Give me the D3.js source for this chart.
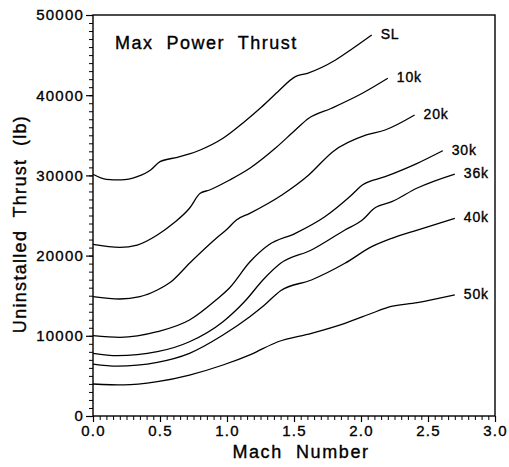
<!DOCTYPE html>
<html>
<head>
<meta charset="utf-8">
<script src="https://cdn.jsdelivr.net/npm/d3@7"></script>
<style>
  html, body { margin: 0; padding: 0; background: #fff; }
  svg { display: block; }
  text { font-family: "Liberation Sans", Arial, sans-serif; fill: #000; stroke: #000; stroke-width: 0.35px; }
</style>
</head>
<body>
<svg id="chart" width="509" height="467"></svg>
<script>
// ---- data ----
const seriesNames = ["SL", "10k", "20k", "30k", "36k", "40k", "50k"];

const machSL   = [0, 0.10, 0.21, 0.33, 0.43, 0.50, 0.63, 0.72, 0.80, 0.97, 1.13, 1.26, 1.38, 1.51, 1.60, 1.81, 1.94, 2.08];
const thrustSL = [30140, 29510, 29430, 29840, 30670, 31710, 32260, 32670, 33170, 34630, 36700, 38570, 40440, 42310, 42730, 44390, 45850, 47510];

const mach10k   = [0, 0.20, 0.33, 0.48, 0.60, 0.72, 0.80, 0.87, 1.02, 1.17, 1.36, 1.51, 1.61, 1.78, 2.01, 2.20];
const thrust10k = [21410, 21030, 21320, 22570, 24030, 25900, 27770, 28180, 29430, 30890, 33380, 35660, 37120, 38370, 40240, 42110];

const mach20k   = [0, 0.20, 0.35, 0.48, 0.58, 0.72, 0.92, 1.00, 1.07, 1.17, 1.41, 1.61, 1.79, 2.04, 2.18, 2.40];
const thrust20k = [14880, 14590, 14880, 15710, 16700, 19040, 22160, 23280, 24440, 25270, 27560, 30050, 32960, 35040, 35660, 37530];

const mach30k   = [0, 0.20, 0.48, 0.72, 0.92, 1.02, 1.17, 1.31, 1.51, 1.73, 1.93, 2.01, 2.18, 2.42, 2.61];
const thrust30k = [10010, 9810, 10510, 11970, 14500, 16000, 19200, 21320, 22780, 24850, 27560, 28800, 29840, 31510, 33080];

const mach36k   = [0, 0.18, 0.48, 0.72, 0.97, 1.13, 1.28, 1.40, 1.63, 1.88, 2.01, 2.10, 2.23, 2.42, 2.70];
const thrust36k = [7820, 7520, 8020, 9260, 11760, 14250, 17170, 19040, 20700, 23190, 24440, 25900, 26720, 28430, 30170];

const mach40k   = [0, 0.18, 0.48, 0.72, 0.97, 1.17, 1.28, 1.40, 1.63, 1.88, 2.08, 2.23, 2.42, 2.70];
const thrust40k = [6480, 6230, 6700, 7820, 10100, 12380, 13840, 15620, 16960, 19040, 21110, 22160, 23190, 24650];

const mach50k   = [0, 0.23, 0.48, 0.72, 0.97, 1.18, 1.38, 1.63, 1.88, 2.08, 2.20, 2.42, 2.70];
const thrust50k = [3990, 3870, 4280, 5110, 6360, 7690, 9260, 10310, 11560, 12810, 13550, 14130, 15090];

const xTickValues = [0, 0.5, 1.0, 1.5, 2.0, 2.5, 3.0];
const yTickValues = [0, 10000, 20000, 30000, 40000, 50000];

const chartTitle = "Max  Power  Thrust";
const xTitle = "Mach  Number";
const yTitle = "Uninstalled  Thrust  (lb)";

// ---- build ----
const machs   = [machSL, mach10k, mach20k, mach30k, mach36k, mach40k, mach50k];
const thrusts = [thrustSL, thrust10k, thrust20k, thrust30k, thrust36k, thrust40k, thrust50k];
const series = seriesNames.map((name, i) => ({
  name,
  points: machs[i].map((m, j) => ({ m, t: thrusts[i][j] }))
}));

const svg = d3.select("#chart");
const mLeft = 93, mRight = 495, mTop = 15, mBottom = 416;

const x = d3.scaleLinear().domain([0, 3]).range([mLeft, mRight]);
const y = d3.scaleLinear().domain([0, 50000]).range([mBottom, mTop]);

// minor ticks
const xMinor = d3.range(0, 3.0001, 0.05).map(v => +v.toFixed(2));
const yMinor = d3.range(0, 50001, 1000);

svg.append("g")
  .attr("transform", `translate(0,${mBottom})`)
  .call(d3.axisBottom(x).tickValues(xMinor).tickSize(4).tickFormat(""))
  .call(g => g.select(".domain").remove())
  .call(g => g.selectAll("line").attr("stroke", "#000").attr("stroke-width", 1));

svg.append("g")
  .attr("transform", `translate(0,${mBottom})`)
  .call(d3.axisBottom(x).tickValues(xTickValues).tickSize(6).tickPadding(3)
        .tickFormat(d3.format(".1f")))
  .call(g => g.select(".domain").remove())
  .call(g => g.selectAll("line").attr("stroke", "#000").attr("stroke-width", 1.2))
  .call(g => g.selectAll("text").attr("font-size", 15).attr("letter-spacing", 1.2)
        .attr("font-family", "Liberation Sans, Arial, sans-serif").attr("fill", "#000"));

svg.append("g")
  .attr("transform", `translate(${mLeft},0)`)
  .call(d3.axisLeft(y).tickValues(yMinor).tickSize(4).tickFormat(""))
  .call(g => g.select(".domain").remove())
  .call(g => g.selectAll("line").attr("stroke", "#000").attr("stroke-width", 1));

svg.append("g")
  .attr("transform", `translate(${mLeft},0)`)
  .call(d3.axisLeft(y).tickValues(yTickValues).tickSize(7).tickPadding(2)
        .tickFormat(d3.format("d")))
  .call(g => g.select(".domain").remove())
  .call(g => g.selectAll("line").attr("stroke", "#000").attr("stroke-width", 1.2))
  .call(g => g.selectAll("text").attr("font-size", 15).attr("letter-spacing", 1.2)
        .attr("font-family", "Liberation Sans, Arial, sans-serif").attr("fill", "#000"));

// frame
svg.append("rect")
  .attr("x", mLeft).attr("y", mTop)
  .attr("width", mRight - mLeft).attr("height", mBottom - mTop)
  .attr("fill", "none").attr("stroke", "#000").attr("stroke-width", 1.4);

// curves
const line = d3.line()
  .x(d => x(d.m))
  .y(d => y(d.t))
  .curve(d3.curveMonotoneX);

svg.append("g").selectAll("path")
  .data(series)
  .join("path")
  .attr("d", d => line(d.points))
  .attr("fill", "none")
  .attr("stroke", "#000")
  .attr("stroke-width", 1.3);

// curve labels
svg.append("g").selectAll("text")
  .data(series)
  .join("text")
  .attr("x", d => x(d.points[d.points.length - 1].m) + 9)
  .attr("y", d => y(d.points[d.points.length - 1].t) - 1)
  .attr("dy", "0.35em")
  .attr("font-size", 14)
  .attr("letter-spacing", 0.8)
  .text(d => d.name);

// chart title inside plot
svg.append("text")
  .attr("x", 115).attr("y", 49)
  .attr("font-size", 18)
  .attr("letter-spacing", 1.5)
  .style("white-space", "pre")
  .text(chartTitle);

// axis titles
svg.append("text")
  .attr("x", 301).attr("y", 458)
  .attr("text-anchor", "middle")
  .attr("font-size", 18)
  .attr("letter-spacing", 1.6)
  .style("white-space", "pre")
  .text(xTitle);

svg.append("text")
  .attr("transform", `translate(26,${224}) rotate(-90)`)
  .attr("text-anchor", "middle")
  .attr("font-size", 18)
  .attr("letter-spacing", 1.3)
  .style("white-space", "pre")
  .text(yTitle);
</script>
</body>
</html>
